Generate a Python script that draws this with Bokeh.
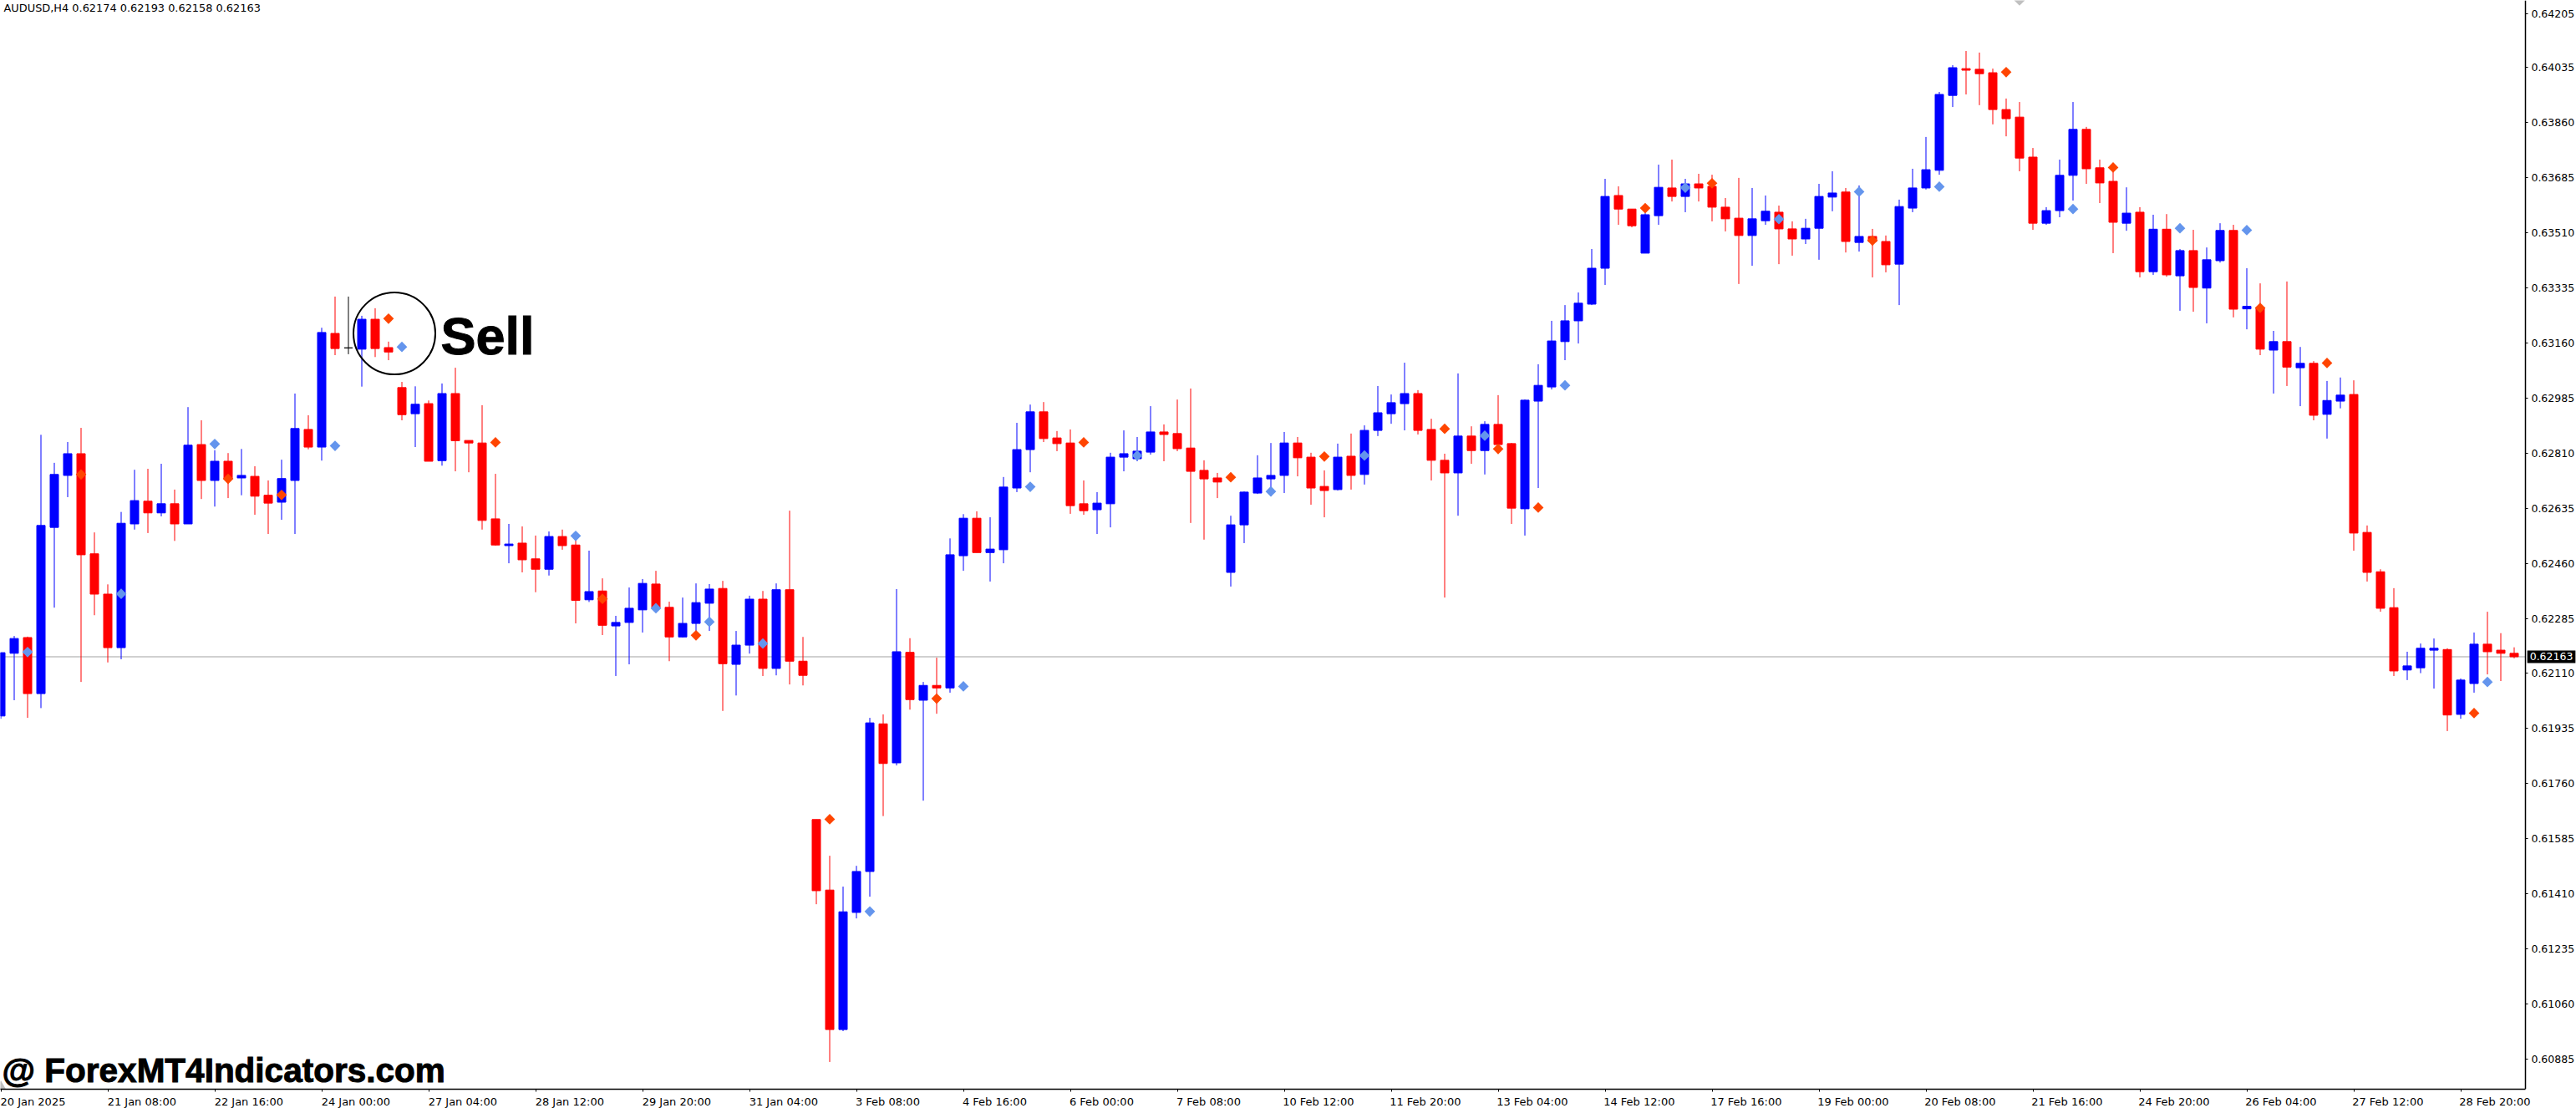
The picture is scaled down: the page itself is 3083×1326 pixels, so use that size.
from bokeh.embed import file_html
from bokeh.resources import INLINE
from bokeh.plotting import figure
from bokeh.models import ColumnDataSource, FixedTicker, LinearAxis, Label, Range1d
import math

symbol_text = "AUDUSD,H4  0.62174 0.62193 0.62158 0.62163"
last_price = 0.62163

# candle direction: B up (blue), R down (red), K unchanged (black)
direction = ("BBRBBBRRRB" "BRBRBRBRBR" "RBBRBRKBRR" "RBRBRRRRBR" "RBRRBRBBBR"
             "RBBBRBBRBR" "RRRBBBRBRB" "RBBRBBBBRR" "RRBBBBBRRR" "RRBBBBBRRR"
             "BRBBBBRRRB" "RBRRBBBBBB" "BRRBBRBRRR" "RBBRRBBBRB" "RRBBBBBRRR"
             "RRRBBBRRRB" "RBRBRBBRBR" "BRBRBBRRRR" "BBBRBBRRR")

body_top = [
 .62176,.62221,.62224,.62580,.62742,.62808,.62808,.62490,.62362,.62587,
 .62659,.62657,.62649,.62649,.62835,.62837,.62784,.62784,.62739,.62736,
 .62676,.62729,.62888,.62885,.63193,.63190,.63144,.63235,.63235,.63145,
 .63018,.62965,.62967,.62999,.62999,.62850,.62842,.62601,.62521,.62524,
 .62474,.62545,.62545,.62518,.62370,.62372,.62272,.62317,.62396,.62394,
 .62320,.62269,.62335,.62378,.62380,.62200,.62346,.62346,.62376,.62376,
 .62149,.61646,.61422,.61353,.61481,.61953,.61950,.62179,.62177,.62072,
 .62072,.62487,.62603,.62603,.62505,.62702,.62821,.62941,.62941,.62858,
 .62842,.62649,.62651,.62797,.62808,.62816,.62877,.62877,.62872,.62826,
 .62755,.62731,.62582,.62686,.62731,.62739,.62842,.62842,.62797,.62704,
 .62797,.62800,.62882,.62938,.62970,.62999,.62999,.62885,.62787,.62864,
 .62864,.62901,.62901,.62840,.62978,.63025,.63166,.63230,.63286,.63397,
 .63625,.63628,.63585,.63567,.63654,.63652,.63665,.63665,.63657,.63591,
 .63556,.63554,.63578,.63575,.63522,.63524,.63625,.63636,.63639,.63498,
 .63498,.63482,.63593,.63652,.63710,.63949,.64034,.64031,.64029,.64018,
 .63901,.63877,.63750,.63580,.63692,.63838,.63838,.63716,.63673,.63572,
 .63575,.63521,.63521,.63453,.63453,.63424,.63517,.63517,.63276,.63272,
 .63164,.63164,.63095,.63095,.62977,.62994,.62996,.62558,.62433,.62319,
 .62134,.62190,.62190,.62186,.62089,.62203,.62203,.62184,.62174]

body_bottom = [
 .61975,.62174,.62046,.62046,.62574,.62739,.62487,.62362,.62192,.62192,
 .62585,.62620,.62620,.62585,.62585,.62723,.62723,.62728,.62731,.62673,
 .62651,.62654,.62723,.62829,.62829,.63142,.63144,.63140,.63142,.63131,
 .62932,.62935,.62784,.62786,.62849,.62842,.62596,.62518,.62516,.62471,
 .62441,.62441,.62516,.62342,.62344,.62263,.62261,.62272,.62312,.62319,
 .62226,.62226,.62269,.62333,.62141,.62139,.62200,.62126,.62126,.62149,
 .62104,.61420,.60979,.60979,.61351,.61481,.61824,.61826,.62027,.62025,
 .62064,.62064,.62484,.62494,.62494,.62503,.62699,.62821,.62856,.62840,
 .62643,.62627,.62630,.62649,.62797,.62792,.62813,.62869,.62824,.62752,
 .62728,.62718,.62431,.62582,.62683,.62728,.62739,.62795,.62699,.62691,
 .62694,.62739,.62742,.62882,.62935,.62967,.62882,.62787,.62747,.62747,
 .62818,.62818,.62837,.62635,.62633,.62975,.63020,.63164,.63230,.63283,
 .63397,.63585,.63532,.63445,.63564,.63625,.63625,.63652,.63591,.63554,
 .63501,.63501,.63548,.63522,.63490,.63490,.63524,.63623,.63482,.63479,
 .63482,.63408,.63410,.63588,.63652,.63708,.63946,.64026,.64015,.63901,
 .63872,.63747,.63540,.63540,.63580,.63692,.63713,.63668,.63543,.63540,
 .63386,.63386,.63376,.63373,.63336,.63334,.63421,.63267,.63268,.63140,
 .63137,.63083,.63081,.62930,.62933,.62975,.62556,.62431,.62317,.62118,
 .62121,.62128,.62184,.61978,.61980,.62078,.62179,.62174,.62163]

wick_high = [
 .62176,.62229,.62227,.62868,.62779,.62845,.62890,.62558,.62393,.62623,
 .62757,.62760,.62776,.62694,.62956,.62914,.62819,.62810,.62823,.62768,
 .62723,.62789,.62999,.62930,.63208,.63307,.63307,.63246,.63270,.63164,
 .63036,.63022,.62977,.63031,.63081,.62850,.62962,.62744,.62585,.62577,
 .62548,.62561,.62567,.62533,.62500,.62412,.62293,.62383,.62410,.62436,
 .62338,.62351,.62396,.62394,.62404,.62245,.62357,.62372,.62396,.62627,
 .62226,.61646,.61531,.61433,.61499,.61969,.61980,.62378,.62222,.62083,
 .62160,.62539,.62616,.62625,.62606,.62734,.62906,.62964,.62972,.62880,
 .62885,.62723,.62686,.62811,.62882,.62861,.62959,.62901,.62980,.63015,
 .62787,.62747,.62611,.62688,.62803,.62842,.62877,.62861,.62811,.62755,
 .62840,.62872,.62898,.63023,.62996,.63097,.63010,.62919,.62808,.63063,
 .62895,.62911,.62994,.62842,.62980,.63092,.63230,.63280,.63320,.63458,
 .63681,.63657,.63585,.63572,.63726,.63742,.63681,.63697,.63694,.63620,
 .63684,.63652,.63628,.63596,.63546,.63554,.63665,.63705,.63652,.63660,
 .63522,.63501,.63615,.63713,.63814,.63957,.64042,.64087,.64082,.64031,
 .63936,.63925,.63779,.63591,.63742,.63925,.63846,.63742,.63705,.63654,
 .63591,.63567,.63569,.63458,.63519,.63463,.63540,.63535,.63397,.63349,
 .63198,.63355,.63147,.63102,.63039,.63050,.63041,.62580,.62441,.62381,
 .62179,.62205,.62221,.62190,.62094,.62240,.62306,.62238,.62193]

wick_low = [
 .61966,.62025,.61969,.62000,.62319,.62670,.62083,.62295,.62145,.62155,
 .62567,.62556,.62609,.62531,.62585,.62664,.62640,.62667,.62676,.62614,
 .62553,.62598,.62553,.62822,.62786,.63121,.63124,.63021,.63115,.63105,
 .62914,.62829,.62784,.62770,.62752,.62749,.62567,.62516,.62460,.62431,
 .62368,.62421,.62503,.62269,.62337,.62232,.62102,.62139,.62240,.62319,
 .62149,.62224,.62230,.62245,.61991,.62040,.62173,.62102,.62104,.62075,
 .62072,.61377,.60876,.60974,.61332,.61401,.61657,.61818,.61995,.61706,
 .61982,.62049,.62436,.62494,.62402,.62460,.62686,.62749,.62845,.62816,
 .62617,.62614,.62553,.62574,.62752,.62784,.62805,.62784,.62816,.62588,
 .62535,.62667,.62386,.62524,.62680,.62673,.62683,.62736,.62646,.62606,
 .62691,.62694,.62710,.62864,.62903,.62882,.62869,.62723,.62351,.62611,
 .62776,.62742,.62837,.62585,.62548,.62699,.63012,.63105,.63158,.63280,
 .63344,.63535,.63527,.63445,.63535,.63609,.63575,.63609,.63546,.63514,
 .63347,.63405,.63535,.63410,.63437,.63474,.63424,.63578,.63447,.63450,
 .63368,.63384,.63280,.63575,.63647,.63694,.63909,.63949,.63915,.63854,
 .63816,.63705,.63519,.63535,.63559,.63612,.63665,.63604,.63445,.63516,
 .63368,.63376,.63370,.63262,.63259,.63222,.63415,.63241,.63203,.63121,
 .62999,.63023,.62959,.62914,.62856,.62952,.62500,.62402,.62306,.62102,
 .62089,.62111,.62062,.61927,.61966,.62049,.62107,.62086,.62158]

buy_bar = [2,9,16,25,30,43,49,53,57,65,72,77,85,95,102,111,117,126,133,139,145,155,163,168,186]
buy_price = [.62178,.62363,.62839,.62833,.63147,.62547,.62317,.62274,.62205,.61354,.62069,.62703,.62802,.62688,.62802,.62865,.63025,.63653,.63553,.63640,.63656,.63585,.63524,.63518,.62083]
sell_bar = [6,17,21,29,37,45,52,62,70,81,92,99,108,112,115,123,128,140,150,158,169,174,185]
sell_price = [.62742,.62728,.62677,.63237,.62844,.62347,.62231,.61647,.62030,.62844,.62733,.62799,.62887,.62823,.62637,.63588,.63667,.63485,.64020,.63717,.63271,.63096,.61984]

date_ticks = list(range(0, 185, 8))
date_labels = ["20 Jan 2025","21 Jan 08:00","22 Jan 16:00","24 Jan 00:00","27 Jan 04:00","28 Jan 12:00",
 "29 Jan 20:00","31 Jan 04:00","3 Feb 08:00","4 Feb 16:00","6 Feb 00:00","7 Feb 08:00","10 Feb 12:00",
 "11 Feb 20:00","13 Feb 04:00","14 Feb 12:00","17 Feb 16:00","19 Feb 00:00","20 Feb 08:00","21 Feb 16:00",
 "24 Feb 20:00","26 Feb 04:00","27 Feb 12:00","28 Feb 20:00"]
price_ticks = [.64205,.64035,.63860,.63685,.63510,.63335,.63160,.62985,.62810,.62635,.62460,.62285,.62110,
 .61935,.61760,.61585,.61410,.61235,.61060,.60885]

colors = {"B": "#0000ff", "R": "#ff0000", "K": "#000000"}
bars = list(range(len(direction)))
src = ColumnDataSource(dict(
    x=bars, top=body_top, bottom=body_bottom, high=wick_high, low=wick_low,
    color=[colors[d] for d in direction]))

PX = 16.0
YTOP, YBOTTOM = 0.6424766, 0.6078956
XSTART, XEND = -0.03125, 192.65625
AXIS_BAR = 188.84
p = figure(width=3083, height=1326, frame_width=3083, frame_height=1303,
           x_range=Range1d(XSTART, XEND), y_range=Range1d(YBOTTOM, YTOP),
           output_backend="svg", toolbar_location=None, x_axis_location="below", y_axis_location=None,
           min_border_left=0, min_border_right=0, min_border_top=0, min_border_bottom=0,
           outline_line_color=None, background_fill_color="white",
           styles={"position": "absolute", "left": "0px", "top": "0px"})
p.grid.visible = False

xa = p.xaxis[0]
anchors = [t + len(l) * 6.8 / 2 / PX for t, l in zip(date_ticks, date_labels)]
xa.ticker = FixedTicker(ticks=anchors, minor_ticks=date_ticks)
xa.major_label_overrides = {a: l for a, l in zip(anchors, date_labels)}
xa.bounds = (XSTART, AXIS_BAR)
xa.major_tick_line_color = None
xa.major_tick_out = 3
xa.major_tick_in = 0
xa.minor_tick_line_color = "black"
xa.minor_tick_out = 3
xa.minor_tick_in = 0
xa.axis_line_color = "black"
xa.axis_line_width = 1.5
xa.major_label_text_font = "DejaVu Sans"
xa.major_label_text_font_size = "13px"
xa.major_label_text_color = "black"
xa.major_label_standoff = 4

ya = LinearAxis(ticker=FixedTicker(ticks=price_ticks), fixed_location=AXIS_BAR,
                major_label_overrides={t: f"{t:.5f}" for t in price_ticks})
ya.major_tick_out = 3
ya.major_tick_in = 0
ya.minor_tick_line_color = None
ya.axis_line_color = "black"
ya.axis_line_width = 1.5
ya.major_label_text_font = "DejaVu Sans"
ya.major_label_text_font_size = "12.5px"
ya.major_label_text_color = "black"
ya.major_label_standoff = 4
p.add_layout(ya, "right")

p.segment([XSTART], [last_price], [AXIS_BAR], [last_price], line_color="#c0c0c0", line_width=1.5)

p.segment("x", "high", "x", "low", source=src, line_color="color", line_width=1)
p.vbar("x", width=10 / PX, top="top", bottom="bottom", source=src,
       fill_color="color", line_color="color", line_width=1)

p.scatter(buy_bar, buy_price, marker="square", size=9, angle=math.pi / 4,
          fill_color="#6495ed", line_color=None)
p.scatter(sell_bar, sell_price, marker="square", size=9, angle=math.pi / 4,
          fill_color="#ff4500", line_color=None)

p.scatter([151], [YTOP], marker="square", size=9, angle=math.pi / 4, fill_color="#c0c0c0", line_color=None)
p.scatter([0], [YBOTTOM], marker="triangle", size=18, fill_color="#c0c0c0", line_color=None)

p.scatter([29.44], [0.63190], marker="circle", size=98, fill_color=None, line_color="black", line_width=2)
p.add_layout(Label(x=32.9, y=0.63182, text="Sell", text_font="Liberation Sans", text_font_style="bold",
                   text_font_size="63px", text_color="black", text_baseline="alphabetic",
                   text_outline_color="black"))
p.add_layout(Label(x=0.1, y=0.60849, text="@ ForexMT4Indicators.com", text_font="Liberation Sans",
                   text_font_style="bold", text_font_size="40.5px", text_color="black", text_baseline="alphabetic",
                   text_outline_color="black"))
p.add_layout(Label(x=0.22, y=0.64225, text=symbol_text, text_font="DejaVu Sans",
                   text_font_size="12.9px", text_color="black", text_baseline="middle"))
p.add_layout(Label(x=188.98, y=last_price, text=f"{last_price:.5f}", text_font="DejaVu Sans",
                   text_font_size="12.5px", text_color="white", text_baseline="middle",
                   background_fill_color="black", padding=3))

open("out.html", "w").write(file_html(p, INLINE))
